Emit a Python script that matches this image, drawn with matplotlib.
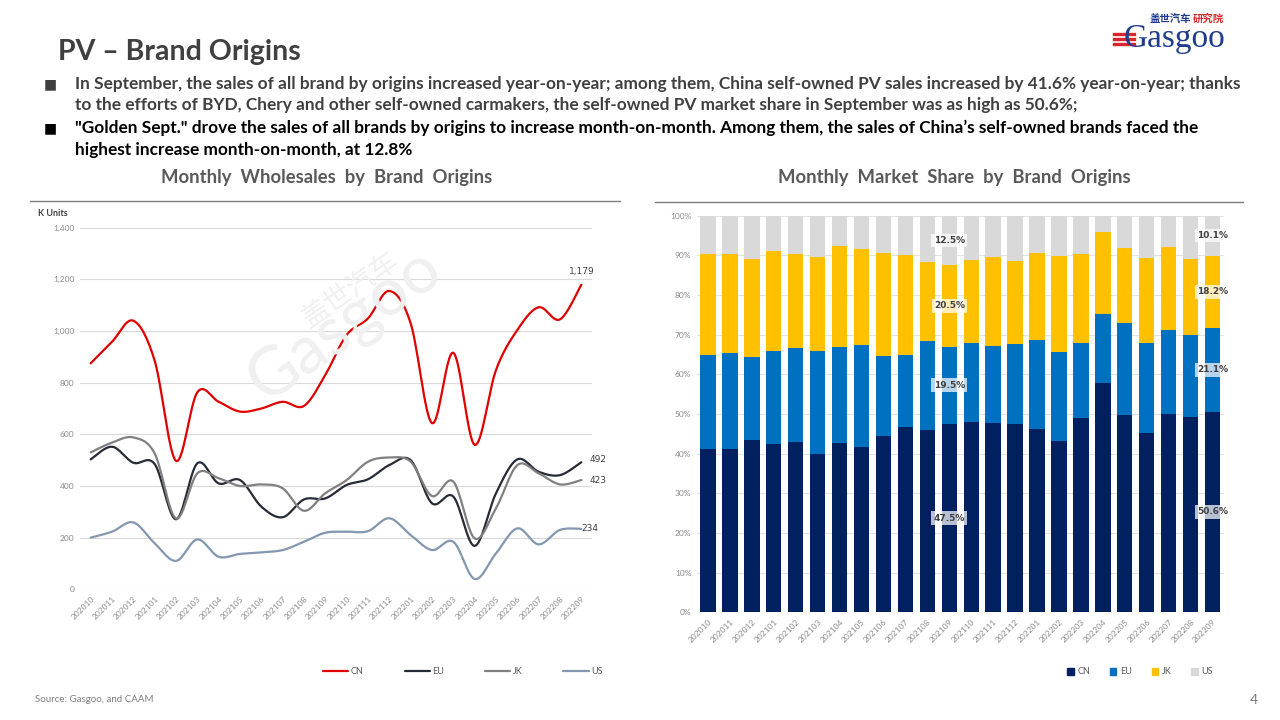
import numpy as np
import matplotlib
matplotlib.use("Agg")
from matplotlib import pyplot as plt
from matplotlib.lines import Line2D
from matplotlib.patches import Patch

# data
months = ["202010", "202011", "202012", "202101", "202102", "202103", "202104", "202105",
          "202106", "202107", "202108", "202109", "202110", "202111", "202112", "202201",
          "202202", "202203", "202204", "202205", "202206", "202207", "202208", "202209"]

# monthly wholesales, K units
cn_sales = [875, 958, 1040, 885, 497, 763, 726, 688, 700, 726, 710, 830,
            985, 1049, 1155, 1030, 643, 916, 559, 849, 1004, 1092, 1045, 1179]
eu_sales = [503, 552, 490, 485, 271, 488, 410, 423, 320, 279, 348, 352,
            404, 426, 481, 500, 333, 359, 168, 372, 503, 455, 442, 492]
jk_sales = [530, 568, 588, 526, 274, 449, 430, 400, 406, 391, 304, 372,
            423, 494, 510, 494, 361, 417, 197, 314, 481, 449, 406, 423]
us_sales = [200, 223, 259, 178, 110, 193, 126, 137, 143, 152, 184, 219,
            223, 225, 275, 210, 152, 184, 40, 139, 236, 174, 230, 234]

# monthly market share, %
cn_share = [41.3, 41.3, 43.4, 42.4, 42.9, 39.9, 42.6, 41.6, 44.5, 46.6, 46.0, 47.5,
            48.1, 47.8, 47.5, 46.2, 43.2, 48.9, 57.9, 49.7, 45.3, 50.0, 49.2, 50.6]
eu_share = [23.7, 24.2, 20.9, 23.4, 23.7, 25.9, 24.2, 25.7, 20.1, 18.2, 22.3, 19.5,
            19.7, 19.3, 20.1, 22.5, 22.4, 18.9, 17.3, 23.2, 22.5, 21.2, 20.7, 21.1]
jk_share = [25.3, 24.8, 24.7, 25.3, 23.7, 23.9, 25.6, 24.3, 26.1, 25.3, 19.9, 20.5,
            21.0, 22.6, 21.0, 22.0, 24.2, 22.5, 20.7, 18.9, 21.5, 21.0, 19.3, 18.2]
us_share = [9.7, 9.7, 11.0, 8.9, 9.7, 10.3, 7.6, 8.4, 9.3, 9.9, 11.8, 12.5,
            11.2, 10.3, 11.4, 9.3, 10.2, 9.7, 4.1, 8.2, 10.7, 7.8, 10.8, 10.1]

origins = ["CN", "EU", "JK", "US"]
line_colors = ["#E00000", "#262B36", "#808080", "#8497B0"]
bar_colors = ["#002060", "#0070C0", "#FFC000", "#D9D9D9"]

W, H = 1280, 720
plt.rcParams['font.family'] = ['Lato', 'DejaVu Sans']

fig = plt.figure(figsize=(12.8, 7.2), dpi=100)


def px(x, y):
    # slide pixel -> figure fraction
    return x / W, 1 - y / H


def box(l, t, r, b):
    return [l / W, 1 - b / H, (r - l) / W, (b - t) / H]


def smooth(xs, ys, n=16):
    # catmull-rom curve through the points, like excel's smoothed line
    xs = np.asarray(xs, float)
    ys = np.asarray(ys, float)
    P = np.column_stack([xs, ys])
    P = np.vstack([P[0], P, P[-1]])
    out = []
    t = np.linspace(0, 1, n, endpoint=False)[:, None]
    for i in range(1, len(P) - 2):
        p0, p1, p2, p3 = P[i - 1], P[i], P[i + 1], P[i + 2]
        seg = 0.5 * ((2 * p1) + (-p0 + p2) * t + (2 * p0 - 5 * p1 + 4 * p2 - p3) * t ** 2
                     + (-p0 + 3 * p1 - 3 * p2 + p3) * t ** 3)
        out.append(seg)
    out.append(P[-2][None, :])
    out = np.vstack(out)
    return out[:, 0], out[:, 1]


# ---- header ----
fig.text(*px(58, 52), "PV – Brand Origins", fontsize=20.5, fontweight="bold",
         color="#404040", va="center", ha="left")

bullets = [
    (84, "In September, the sales of all brand by origins increased year-on-year; among them, China self-owned PV sales increased by 41.6% year-on-year; thanks", "#404040", True),
    (105, "to the efforts of BYD, Chery and other self-owned carmakers, the self-owned PV market share in September was as high as 50.6%;", "#404040", False),
    (128, "\"Golden Sept.\" drove the sales of all brands by origins to increase month-on-month. Among them, the sales of China’s self-owned brands faced the", "#000000", True),
    (150, "highest increase month-on-month, at 12.8%", "#000000", False),
]
for y, txt, col, sq in bullets:
    fig.text(*px(75, y), txt, fontsize=12.45, fontweight="bold", color=col, va="center", ha="left")
    if sq:
        fig.text(*px(50, y), "■", fontsize=10, color=col, va="center", ha="center",
                 family="DejaVu Sans")

fig.text(*px(327, 178), "Monthly  Wholesales  by  Brand  Origins", fontsize=13.3, fontweight="bold",
         color="#595959", ha="center", va="center")
fig.text(*px(954, 178), "Monthly  Market  Share  by  Brand  Origins", fontsize=13.3, fontweight="bold",
         color="#595959", ha="center", va="center")
fig.add_artist(Line2D([30 / W, 620 / W], [1 - 201 / H] * 2, color="#7F7F7F", lw=1))
fig.add_artist(Line2D([655 / W, 1243 / W], [1 - 202 / H] * 2, color="#7F7F7F", lw=1))

# logo, top right
fig.text(*px(1150, 24), "盖世汽车", fontsize=7.5, fontweight="bold", color="#1F3D8C",
         family=["Noto Sans CJK SC"], va="bottom", ha="left")
fig.text(*px(1193, 24), "研究院", fontsize=7.5, fontweight="bold", color="#D9262E",
         family=["Noto Sans CJK SC"], va="bottom", ha="left")
fig.text(*px(1124, 24), "Gasgoo", fontsize=24, color="#1F3D8C", family="Liberation Serif",
         va="top", ha="left")
for yy in (34, 39, 44):
    fig.add_artist(Line2D([1114 / W, 1134 / W], [1 - yy / H] * 2, color="#D9262E", lw=2.4))

# watermark
fig.text(*px(350, 290), "盖世汽车", fontsize=20, color="#F0F0F0", rotation=35,
         family=["Noto Sans CJK SC"], ha="center", va="center", zorder=0)
fig.text(*px(345, 325), "Gasgoo", fontsize=48, color="#F0F0F0", rotation=35,
         ha="center", va="center", zorder=0)

# ---- left: wholesales lines ----
ax1 = fig.add_axes(box(80, 227.7, 592, 589.3))
ax1.set_facecolor("none")
x = np.arange(len(months))
for vals, name, col in zip([cn_sales, eu_sales, jk_sales, us_sales], origins, line_colors):
    sx, sy = smooth(x, vals)
    ax1.plot(sx, sy, color=col, lw=1.6, label=name, solid_capstyle="round")
ax1.set_xlim(-0.5, len(months) - 0.5)
ax1.set_ylim(0, 1400)
ax1.set_yticks(range(0, 1401, 200))
ax1.set_yticklabels([f"{v:,}" for v in range(0, 1401, 200)])
ax1.set_xticks(x)
ax1.set_xticklabels(months, rotation=45, ha="right", rotation_mode="anchor")
ax1.tick_params(length=0, labelsize=6, labelcolor="#8C8C8C", pad=4)
ax1.grid(axis="y", color="#D9D9D9", lw=0.8)
ax1.set_axisbelow(True)
for s in ax1.spines.values():
    s.set_visible(False)

last = len(months) - 1
ax1.annotate(f"{cn_sales[-1]:,}", (last, cn_sales[-1]), xytext=(0, 6), textcoords="offset points",
             ha="center", va="bottom", fontsize=6.5, color="#404040", family="DejaVu Sans")
ax1.annotate(f"{eu_sales[-1]}", (last, eu_sales[-1]), xytext=(6, 2), textcoords="offset points",
             ha="left", va="center", fontsize=6.5, color="#404040", family="DejaVu Sans")
ax1.annotate(f"{jk_sales[-1]}", (last, jk_sales[-1]), xytext=(6, 0), textcoords="offset points",
             ha="left", va="center", fontsize=6.5, color="#404040", family="DejaVu Sans")
ax1.annotate(f"{us_sales[-1]}", (last, us_sales[-1]), xytext=(0, 0), textcoords="offset points",
             ha="left", va="center", fontsize=6.5, color="#404040", family="DejaVu Sans")

fig.text(*px(38, 213), "K Units", fontsize=6.5, fontweight="bold", color="#404040", va="center")

ax1.legend(loc="center", bbox_to_anchor=(*px(463, 672),), bbox_transform=fig.transFigure,
           ncol=4, frameon=False, fontsize=6.5, labelcolor="#595959", handlelength=2.8,
           columnspacing=4.5, handletextpad=0.3)

# ---- right: market share stacked bars ----
ax2 = fig.add_axes(box(697, 215.7, 1223.5, 612.3))
bottom = np.zeros(len(months))
for vals, name, col in zip([cn_share, eu_share, jk_share, us_share], origins, bar_colors):
    vals = np.array(vals)
    ax2.bar(x, vals, 0.7, bottom=bottom, color=col, label=name, zorder=2)
    for i in (11, 23):
        ax2.text(i, bottom[i] + vals[i] / 2, f"{vals[i]:.1f}%", ha="center", va="center",
                 fontsize=6.5, fontweight="bold", color="#404040", family="DejaVu Sans", zorder=3,
                 bbox=dict(boxstyle="square,pad=0.25", fc="white", ec="none", alpha=0.72))
    bottom += vals
ax2.set_xlim(-0.5, len(months) - 0.5)
ax2.set_ylim(0, 100)
ax2.set_yticks(range(0, 101, 10))
ax2.set_yticklabels([f"{v}%" for v in range(0, 101, 10)])
ax2.set_xticks(x)
ax2.set_xticklabels(months, rotation=45, ha="right", rotation_mode="anchor")
ax2.tick_params(length=0, labelsize=6, labelcolor="#8C8C8C", pad=4)
ax2.grid(axis="y", color="#E3E3E3", lw=0.8, zorder=0)
ax2.set_axisbelow(True)
for s in ax2.spines.values():
    s.set_visible(False)

handles = [Patch(color=c, label=n) for c, n in zip(bar_colors, origins)]
ax2.legend(handles=handles, loc="center", bbox_to_anchor=(*px(1140, 672),),
           bbox_transform=fig.transFigure, ncol=4, frameon=False, fontsize=6.5,
           labelcolor="#595959", handlelength=0.7, handleheight=0.7, columnspacing=2.2,
           handletextpad=0.4)

# ---- footer ----
fig.text(*px(35, 699), "Source: Gasgoo, and CAAM", fontsize=7, color="#7F7F7F", va="center")
fig.text(*px(1254, 700), "4", fontsize=10, color="#7F7F7F", va="center", ha="center")

plt.savefig("out.png", dpi=100)
